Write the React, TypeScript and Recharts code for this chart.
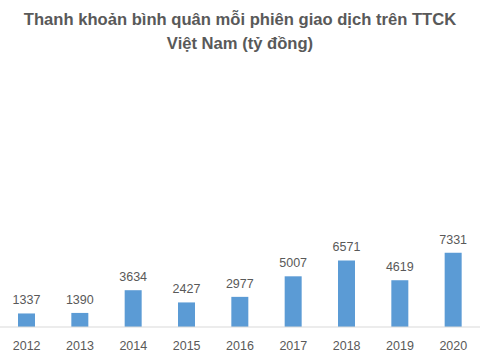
import React from "react";
import { BarChart, Bar, XAxis, YAxis, LabelList } from "recharts";

const years = ["2012", "2013", "2014", "2015", "2016", "2017", "2018", "2019", "2020"];
const liquidity = [1337, 1390, 3634, 2427, 2977, 5007, 6571, 4619, 7331];
const titleLines = ["Thanh khoản bình quân mỗi phiên giao dịch trên TTCK", "Việt Nam (tỷ đồng)"];

const data = years.map((y, i) => ({ year: y, value: liquidity[i] }));

const FONT = "'Liberation Sans', Arial, sans-serif";
const GREY = "#595959";

export default function App() {
  return (
    <div style={{ position: "absolute", left: 0, top: 0, width: 480, height: 360, background: "#fff", overflow: "hidden" }}>
      <div
        style={{
          position: "absolute",
          left: 0,
          top: 8,
          width: 480,
          textAlign: "center",
          fontFamily: FONT,
          fontWeight: "bold",
          fontSize: 16.6,
          lineHeight: "24px",
          color: GREY,
        }}
      >
        <div>{titleLines[0]}</div>
        <div>{titleLines[1]}</div>
      </div>
      <BarChart
        width={480}
        height={360}
        data={data}
        margin={{ top: 246, right: 0, bottom: 0, left: 0 }}
        barSize={17}
      >
        <YAxis hide domain={[0, 8000]} />
        <XAxis
          dataKey="year"
          height={33}
          tickLine={false}
          axisLine={{ stroke: "#D9D9D9" }}
          tickMargin={8}
          tick={{ fill: GREY, fontSize: 12.5, fontFamily: FONT }}
          interval={0}
        />
        <Bar dataKey="value" fill="#5B9BD5" isAnimationActive={false}>
          <LabelList dataKey="value" position="top" offset={9} fill={GREY} fontSize={12.5} fontFamily={FONT} />
        </Bar>
      </BarChart>
    </div>
  );
}
